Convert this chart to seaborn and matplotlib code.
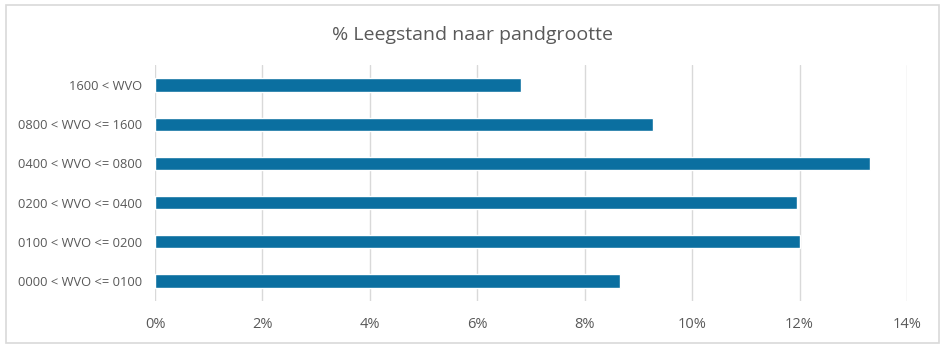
import matplotlib
matplotlib.use("Agg")
import matplotlib.pyplot as plt
import matplotlib.ticker as mticker
from matplotlib.patches import Rectangle
import seaborn as sns
import pandas as pd

categories = [
    "1600 < WVO",
    "0800 < WVO <= 1600",
    "0400 < WVO <= 0800",
    "0200 < WVO <= 0400",
    "0100 < WVO <= 0200",
    "0000 < WVO <= 0100",
]
leegstand_pct = [6.81, 9.27, 13.31, 11.95, 12.00, 8.65]
x_ticks = [0, 2, 4, 6, 8, 10, 12, 14]

df = pd.DataFrame({"klasse": categories, "leegstand": leegstand_pct})

sns.set_theme(style="white")
plt.rcParams["font.family"] = ["Open Sans", "DejaVu Sans"]

fig = plt.figure(figsize=(9.47, 3.5), dpi=100)
ax = fig.add_axes([155 / 947, 1 - 300.6 / 350, 752 / 947, 235.2 / 350])

sns.barplot(data=df, x="leegstand", y="klasse", order=categories,
            color="#0b6fa0", saturation=1, width=0.34, ax=ax, zorder=3)

ax.set_xlim(0, 14)
ax.set_ylim(5.5, -0.5)
ax.set_xticks(x_ticks)
ax.xaxis.set_major_formatter(mticker.FuncFormatter(lambda v, _: f"{v:.0f}%"))
ax.grid(axis="x", color="#d9d9d9", linewidth=1.0, zorder=0)
ax.grid(axis="y", visible=False)
for s in ax.spines.values():
    s.set_visible(False)
ax.tick_params(axis="both", length=0, colors="#595959")
ax.tick_params(axis="x", labelsize=10.5, pad=12)
ax.tick_params(axis="y", labelsize=9.3, pad=9)
ax.set_xlabel("")
ax.set_ylabel("")

fig.text(0.4985, 1 - 35 / 350, "% Leegstand naar pandgrootte",
         ha="center", va="center", fontsize=14, color="#595959")

fig.patches.append(Rectangle((6 / 947, 1 - 343 / 350), 933 / 947, 338 / 350,
                             transform=fig.transFigure, fill=False,
                             edgecolor="#d9d9d9", linewidth=1.2))

fig.savefig("out.png", dpi=100, facecolor="white")
